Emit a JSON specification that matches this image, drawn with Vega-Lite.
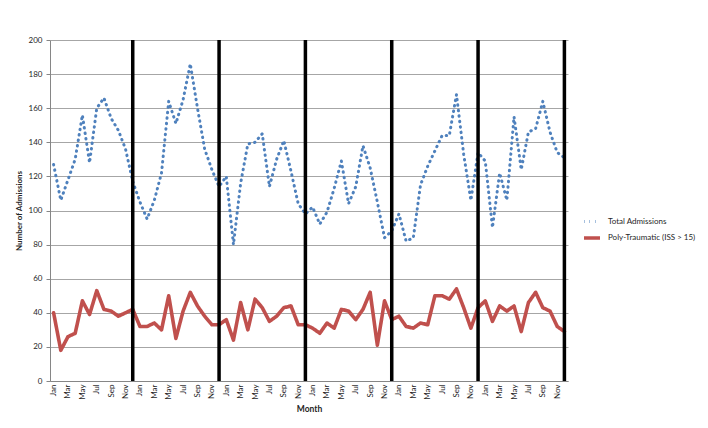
{
  "$schema": "https://vega.github.io/schema/vega-lite/v6.json",
  "autosize": "none",
  "width": 518,
  "height": 341,
  "padding": {"left": 50, "top": 40, "right": 140, "bottom": 47},
  "background": "white",
  "config": {"view": {"stroke": null}, "font": "Lato"},
  "data": {"values": [
    {"year": 1, "month": "Jan", "idx": 0, "total": 127, "poly": 40},
    {"year": 1, "month": "Feb", "idx": 1, "total": 106, "poly": 18},
    {"year": 1, "month": "Mar", "idx": 2, "total": 118, "poly": 26},
    {"year": 1, "month": "Apr", "idx": 3, "total": 130, "poly": 28},
    {"year": 1, "month": "May", "idx": 4, "total": 156, "poly": 47},
    {"year": 1, "month": "Jun", "idx": 5, "total": 128, "poly": 39},
    {"year": 1, "month": "Jul", "idx": 6, "total": 160, "poly": 53},
    {"year": 1, "month": "Aug", "idx": 7, "total": 166, "poly": 42},
    {"year": 1, "month": "Sep", "idx": 8, "total": 154, "poly": 41},
    {"year": 1, "month": "Oct", "idx": 9, "total": 147, "poly": 38},
    {"year": 1, "month": "Nov", "idx": 10, "total": 136, "poly": 40},
    {"year": 1, "month": "Dec", "idx": 11, "total": 117, "poly": 42},
    {"year": 2, "month": "Jan", "idx": 12, "total": 105, "poly": 32},
    {"year": 2, "month": "Feb", "idx": 13, "total": 95, "poly": 32},
    {"year": 2, "month": "Mar", "idx": 14, "total": 106, "poly": 34},
    {"year": 2, "month": "Apr", "idx": 15, "total": 122, "poly": 30},
    {"year": 2, "month": "May", "idx": 16, "total": 164, "poly": 50},
    {"year": 2, "month": "Jun", "idx": 17, "total": 151, "poly": 25},
    {"year": 2, "month": "Jul", "idx": 18, "total": 165, "poly": 41},
    {"year": 2, "month": "Aug", "idx": 19, "total": 186, "poly": 52},
    {"year": 2, "month": "Sep", "idx": 20, "total": 160, "poly": 44},
    {"year": 2, "month": "Oct", "idx": 21, "total": 136, "poly": 38},
    {"year": 2, "month": "Nov", "idx": 22, "total": 124, "poly": 33},
    {"year": 2, "month": "Dec", "idx": 23, "total": 114, "poly": 33},
    {"year": 3, "month": "Jan", "idx": 24, "total": 120, "poly": 36},
    {"year": 3, "month": "Feb", "idx": 25, "total": 80, "poly": 24},
    {"year": 3, "month": "Mar", "idx": 26, "total": 116, "poly": 46},
    {"year": 3, "month": "Apr", "idx": 27, "total": 139, "poly": 30},
    {"year": 3, "month": "May", "idx": 28, "total": 140, "poly": 48},
    {"year": 3, "month": "Jun", "idx": 29, "total": 145, "poly": 43},
    {"year": 3, "month": "Jul", "idx": 30, "total": 114, "poly": 35},
    {"year": 3, "month": "Aug", "idx": 31, "total": 130, "poly": 38},
    {"year": 3, "month": "Sep", "idx": 32, "total": 141, "poly": 43},
    {"year": 3, "month": "Oct", "idx": 33, "total": 123, "poly": 44},
    {"year": 3, "month": "Nov", "idx": 34, "total": 104, "poly": 33},
    {"year": 3, "month": "Dec", "idx": 35, "total": 98, "poly": 33},
    {"year": 4, "month": "Jan", "idx": 36, "total": 102, "poly": 31},
    {"year": 4, "month": "Feb", "idx": 37, "total": 92, "poly": 28},
    {"year": 4, "month": "Mar", "idx": 38, "total": 99, "poly": 34},
    {"year": 4, "month": "Apr", "idx": 39, "total": 113, "poly": 31},
    {"year": 4, "month": "May", "idx": 40, "total": 129, "poly": 42},
    {"year": 4, "month": "Jun", "idx": 41, "total": 104, "poly": 41},
    {"year": 4, "month": "Jul", "idx": 42, "total": 114, "poly": 36},
    {"year": 4, "month": "Aug", "idx": 43, "total": 138, "poly": 42},
    {"year": 4, "month": "Sep", "idx": 44, "total": 125, "poly": 52},
    {"year": 4, "month": "Oct", "idx": 45, "total": 105, "poly": 21},
    {"year": 4, "month": "Nov", "idx": 46, "total": 84, "poly": 47},
    {"year": 4, "month": "Dec", "idx": 47, "total": 88, "poly": 36},
    {"year": 5, "month": "Jan", "idx": 48, "total": 98, "poly": 38},
    {"year": 5, "month": "Feb", "idx": 49, "total": 82, "poly": 32},
    {"year": 5, "month": "Mar", "idx": 50, "total": 84, "poly": 31},
    {"year": 5, "month": "Apr", "idx": 51, "total": 115, "poly": 34},
    {"year": 5, "month": "May", "idx": 52, "total": 126, "poly": 33},
    {"year": 5, "month": "Jun", "idx": 53, "total": 135, "poly": 50},
    {"year": 5, "month": "Jul", "idx": 54, "total": 144, "poly": 50},
    {"year": 5, "month": "Aug", "idx": 55, "total": 144, "poly": 48},
    {"year": 5, "month": "Sep", "idx": 56, "total": 168, "poly": 54},
    {"year": 5, "month": "Oct", "idx": 57, "total": 133, "poly": 43},
    {"year": 5, "month": "Nov", "idx": 58, "total": 106, "poly": 31},
    {"year": 5, "month": "Dec", "idx": 59, "total": 134, "poly": 43},
    {"year": 6, "month": "Jan", "idx": 60, "total": 129, "poly": 47},
    {"year": 6, "month": "Feb", "idx": 61, "total": 90, "poly": 35},
    {"year": 6, "month": "Mar", "idx": 62, "total": 122, "poly": 44},
    {"year": 6, "month": "Apr", "idx": 63, "total": 106, "poly": 41},
    {"year": 6, "month": "May", "idx": 64, "total": 155, "poly": 44},
    {"year": 6, "month": "Jun", "idx": 65, "total": 124, "poly": 29},
    {"year": 6, "month": "Jul", "idx": 66, "total": 146, "poly": 46},
    {"year": 6, "month": "Aug", "idx": 67, "total": 148, "poly": 52},
    {"year": 6, "month": "Sep", "idx": 68, "total": 164, "poly": 43},
    {"year": 6, "month": "Oct", "idx": 69, "total": 146, "poly": 41},
    {"year": 6, "month": "Nov", "idx": 70, "total": 134, "poly": 32},
    {"year": 6, "month": "Dec", "idx": 71, "total": 131, "poly": 29}
  ]},
  "encoding": {
    "x": {
      "field": "idx",
      "type": "quantitative",
      "scale": {"domain": [-0.5, 71.5], "nice": false, "zero": false},
      "axis": {
        "values": [0, 2, 4, 6, 8, 10, 12, 14, 16, 18, 20, 22, 24, 26, 28, 30, 32, 34, 36, 38, 40, 42, 44, 46, 48, 50, 52, 54, 56, 58, 60, 62, 64, 66, 68, 70],
        "labelExpr": "['Jan','Feb','Mar','Apr','May','Jun','Jul','Aug','Sep','Oct','Nov','Dec'][datum.value % 12]",
        "labelAngle": 270,
        "labelAlign": "right",
        "labelBaseline": "middle",
        "labelFontSize": 8,
        "labelColor": "#262626",
        "labelPadding": 3,
        "labelOverlap": false,
        "labelFlush": false,
        "ticks": false,
        "grid": false,
        "domainColor": "#868686",
        "domainWidth": 1,
        "title": "Month",
        "titleFontSize": 8.5,
        "titleFontWeight": "bold",
        "titleColor": "#262626",
        "titlePadding": 5
      }
    }
  },
  "layer": [
    {
      "transform": [{"fold": ["total", "poly"], "as": ["key", "value"]}],
      "mark": {"type": "line", "strokeCap": "round", "strokeJoin": "round"},
      "encoding": {
        "y": {
          "field": "value",
          "type": "quantitative",
          "scale": {"domain": [0, 200], "nice": false},
          "axis": {
            "values": [0, 20, 40, 60, 80, 100, 120, 140, 160, 180, 200],
            "grid": true,
            "gridColor": "#a6a6a6",
            "gridWidth": 1,
            "domainColor": "#868686",
            "tickColor": "#868686",
            "tickSize": 4,
            "labelFontSize": 8,
            "labelColor": "#262626",
            "labelPadding": 4,
            "title": "Number of Admissions",
            "titleFontSize": 8,
            "titleFontWeight": "bold",
            "titleColor": "#262626",
            "titlePadding": 5
          }
        },
        "color": {
          "field": "key",
          "type": "nominal",
          "scale": {"domain": ["total", "poly"], "range": ["#4F81BD", "#C0504D"]},
          "legend": {
            "orient": "none",
            "legendX": 532,
            "legendY": 172,
            "title": null,
            "symbolType": "stroke",
            "symbolSize": 256,
            "labelFontSize": 8,
            "labelColor": "#262626",
            "labelOffset": 6,
            "rowPadding": 0,
            "padding": 0,
            "labelExpr": "datum.value == 'total' ? 'Total Admissions' : 'Poly-Traumatic (ISS > 15)'"
          }
        },
        "strokeDash": {
          "field": "key",
          "type": "nominal",
          "scale": {"domain": ["total", "poly"], "range": [[0.5, 5], [1, 0]]},
          "legend": null
        },
        "strokeWidth": {
          "field": "key",
          "type": "nominal",
          "scale": {"domain": ["total", "poly"], "range": [3, 3.6]},
          "legend": null
        }
      }
    },
    {
      "transform": [{"filter": "datum.month == 'Dec'"}],
      "mark": {"type": "rule", "color": "black", "strokeWidth": 3.5},
      "encoding": {}
    }
  ]
}
